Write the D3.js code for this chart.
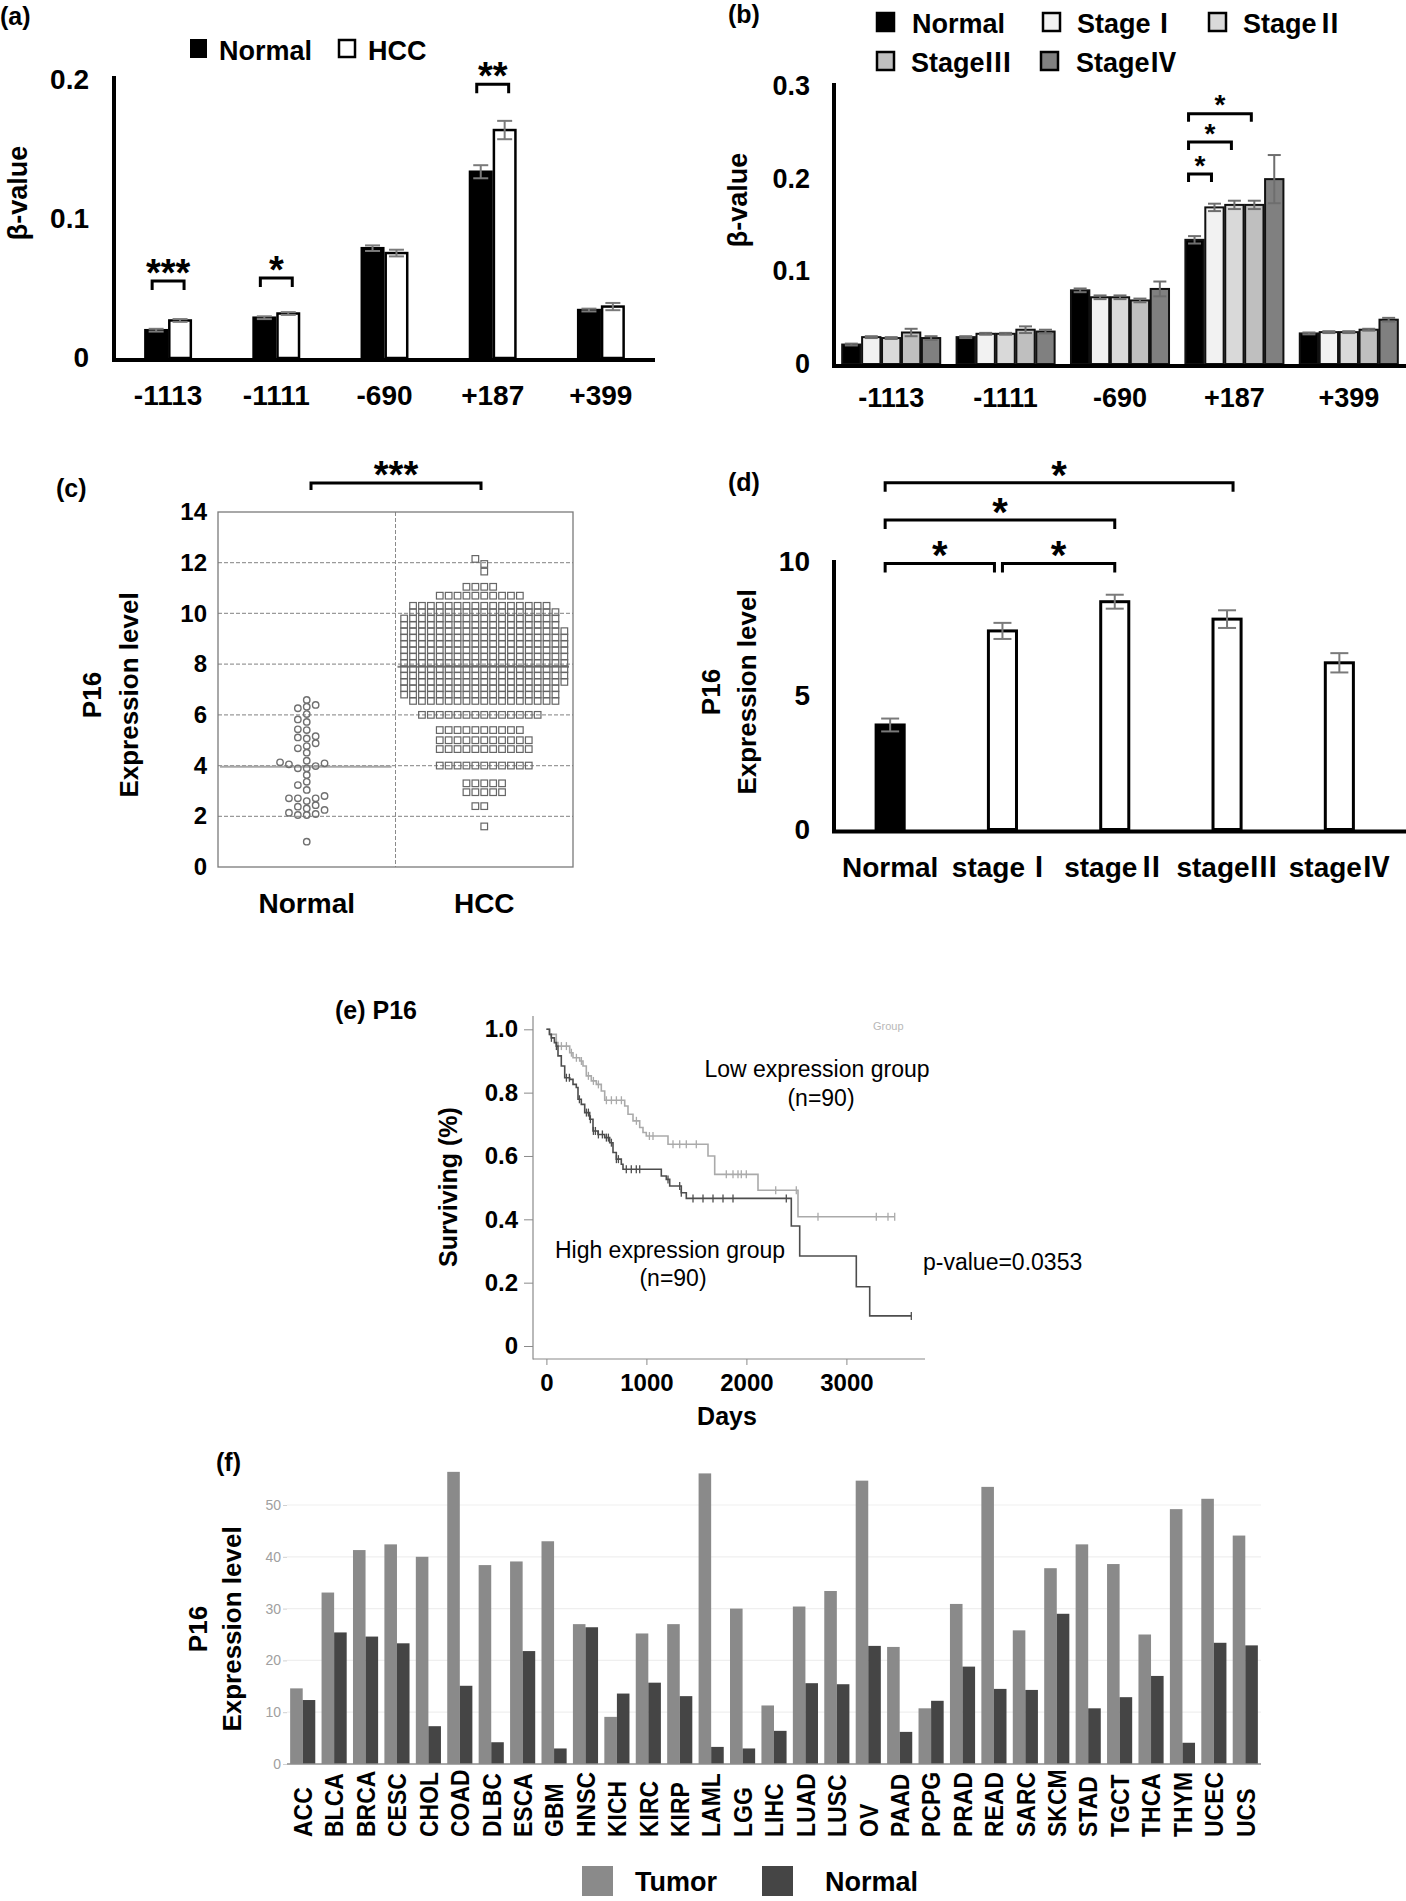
<!DOCTYPE html>
<html><head><meta charset="utf-8">
<script src="https://cdn.jsdelivr.net/npm/d3@7"></script>
<style>
body{margin:0;background:#fff;}
svg{display:block;}
text{font-family:"Liberation Sans",Arial,Helvetica,sans-serif;}
</style></head>
<body><svg id="fig" width="1406" height="1901"></svg>
<script>
// ================= DATA =================
// (a) methylation beta values by CpG site
const sitesA = ["-1113","-1111","-690","+187","+399"];
const groupsA = ["Normal","HCC"];
const normalA = [0.020,0.029,0.079,0.134,0.0345];
const hccA = [0.027,0.032,0.0755,0.164,0.037];
const normalErrA = [0.001,0.001,0.002,0.0047,0.001];
const hccErrA = [0.001,0.001,0.0024,0.0066,0.0026];
const yTicksA = [0,0.1,0.2];
const sigSitesA = ["-1113","-1111","+187"];
const sigLabelsA = ["***","*","**"];
const sigLevelsA = [0.0554,0.0576,0.197];

// (b) beta values by stage
const sitesB = ["-1113","-1111","-690","+187","+399"];
const stagesB = ["Normal","StageⅠ","StageⅡ","StageⅢ","StageⅣ"];
const normalB = [0.021,0.029,0.0795,0.134,0.033];
const stage1B = [0.029,0.0326,0.072,0.169,0.0344];
const stage2B = [0.028,0.0326,0.072,0.1717,0.0344];
const stage3B = [0.034,0.037,0.0686,0.1717,0.037];
const stage4B = [0.028,0.035,0.081,0.1995,0.0478];
const normalErrB = [0.001,0.001,0.002,0.004,0.001];
const stage1ErrB = [0.001,0.001,0.002,0.004,0.001];
const stage2ErrB = [0.001,0.001,0.002,0.0045,0.001];
const stage3ErrB = [0.004,0.0036,0.002,0.0045,0.001];
const stage4ErrB = [0.002,0.002,0.008,0.026,0.002];
const yTicksB = [0,0.1,0.2,0.3];
const sigSiteB = "+187";
const sigTargetsB = ["StageⅠ","StageⅡ","StageⅢ"];
const sigLevelsB = [0.205,0.2395,0.27];

// (c) P16 expression, individual samples
const groupsC = ["Normal","HCC"];
const normalC = [6.59,6.32,6.26,6.39,6.03,5.82,5.72,5.43,5.40,5.07,5.11,5.16,4.88,4.77,4.68,4.51,
  4.05,4.19,4.13,3.89,3.89,3.98,4.09,3.63,3.36,3.23,3.04,2.80,2.71,2.60,2.71,2.71,
  2.44,2.31,2.14,2.05,2.05,2.09,2.25,2.38,1.0];
// HCC samples read as rows: [value, number of samples]
const hccRowsC = [[1.6,1],[2.4,2],[2.95,5],[3.3,5],[4.0,11],[4.65,11],[5.0,11],[5.4,10],[6.0,14],
  [6.55,17],[6.8,18],[7.05,18],[7.3,19],[7.55,19],[7.8,19],[8.05,19],[8.3,19],[8.55,19],[8.8,19],
  [9.05,19],[9.3,19],[9.55,18],[9.8,18],[10.05,17],[10.3,16],[10.7,10],[11.05,4],[11.65,1],[11.95,1],[12.15,1]];
const meansC = [3.95,7.9];
const yTicksC = [0,2,4,6,8,10,12,14];
const gridC = [2,4,6,8,10,12];

// (d) P16 expression by stage
const groupsD = ["Normal","stageⅠ","stageⅡ","stageⅢ","stageⅣ"];
const valuesD = [3.9,7.41,8.5,7.85,6.22];
const errD = [0.24,0.3,0.26,0.33,0.36];
const yTicksD = [0,5,10];
const sigFromD = ["Normal","stageⅠ","Normal","Normal"];
const sigToD = ["stageⅠ","stageⅡ","stageⅡ","stageⅢ"];
const sigLevelsD = [9.93,9.93,11.55,12.94];

// (e) Kaplan-Meier: [day, survival from that day]
const lowKM = [[0,1.0],[33,0.984],[99,0.958],[116,0.947],[233,0.926],[266,0.910],[333,0.900],[366,0.884],
  [399,0.853],[449,0.837],[499,0.826],[549,0.805],[583,0.776],[783,0.758],[816,0.732],[866,0.711],
  [933,0.690],[966,0.674],[999,0.663],[1216,0.637],[1616,0.600],[1683,0.542],[2116,0.492],[2516,0.408],[3483,0.408]];
const highKM = [[0,1.0],[30,0.984],[49,0.973],[80,0.958],[99,0.947],[116,0.916],[149,0.884],[183,0.847],
  [233,0.842],[266,0.826],[299,0.816],[316,0.779],[349,0.763],[383,0.737],[433,0.716],[466,0.679],
  [516,0.668],[583,0.658],[633,0.642],[666,0.611],[699,0.590],[749,0.574],[766,0.558],[1149,0.537],
  [1199,0.526],[1233,0.505],[1349,0.484],[1399,0.466],[2449,0.379],[2533,0.284],[3099,0.187],[3233,0.095],[3649,0.095]];
const lowCensor = [100,150,200,250,300,350,420,470,520,600,650,700,750,900,1030,1066,1266,1333,1399,1499,
  1799,1866,1916,1949,1999,2293,2499,2716,3299,3416,3483];
const highCensor = [50,100,200,230,330,400,420,440,470,490,520,560,600,620,650,700,720,799,849,899,933,
  1216,1333,1349,1466,1566,1666,1766,1866,2399,3649];
const xTicksE = [0,1000,2000,3000];
const yTicksE = [0,0.2,0.4,0.6,0.8,1.0];
const yTickLabelsE = ["0","0.2","0.4","0.6","0.8","1.0"];

// (f) pan-cancer expression
const cancersF = ["ACC","BLCA","BRCA","CESC","CHOL","COAD","DLBC","ESCA","GBM","HNSC","KICH","KIRC","KIRP",
  "LAML","LGG","LIHC","LUAD","LUSC","OV","PAAD","PCPG","PRAD","READ","SARC","SKCM","STAD","TGCT","THCA","THYM","UCEC","UCS"];
const tumorF = [14.6,33.1,41.3,42.4,40.0,56.4,38.4,39.1,43.0,27.0,9.1,25.2,27.0,56.1,30.0,11.3,30.4,
  33.4,54.7,22.6,10.75,30.9,53.5,25.8,37.8,42.4,38.6,25.0,49.2,51.2,44.1];
const normalF = [12.35,25.4,24.6,23.3,7.3,15.1,4.2,21.8,3.0,26.4,13.6,15.7,13.1,3.3,3.0,6.4,15.6,
  15.4,22.8,6.2,12.2,18.8,14.5,14.3,29.0,10.75,12.9,17.0,4.1,23.4,22.9];
const yTicksF = [0,10,20,30,40,50];
const seriesF = ["Tumor","Normal"];

// ================= DRAWING =================
const svg = d3.select("#fig");
svg.append("rect").attr("width",1406).attr("height",1901).attr("fill","#fff");
const CJK = '"Noto Sans CJK JP","Noto Sans CJK SC","DejaVu Sans",sans-serif';

// write a string, putting Roman-numeral characters in a CJK font
function rich(sel, s) {
  sel.text(null);
  (s.match(/[\u2160-\u217F]+|[^\u2160-\u217F]+/g) || []).forEach(p=>{
    const t = sel.append("tspan").text(p);
    if (/[\u2160-\u217F]/.test(p)) t.attr("font-family",CJK);
  });
  return sel;
}
function label(g, x, y, s, size, o={}) {
  const t = g.append("text").attr("x",x).attr("y",y).attr("dy","0.35em")
    .attr("font-size",size).attr("font-weight",o.weight||"bold")
    .attr("text-anchor",o.anchor||"start").attr("fill",o.fill||"#000");
  return rich(t, s);
}
function vlabel(g, x, y, s, size) {
  return g.append("text").attr("transform",`translate(${x},${y}) rotate(-90)`)
    .attr("text-anchor","middle").attr("dy","0.35em").attr("font-size",size).attr("font-weight","bold").text(s);
}
function bracket(g, x1, x2, y, leg, txt, fs) {
  g.append("path").attr("d",`M${x1},${y+leg}V${y}H${x2}V${y+leg}`)
    .attr("fill","none").attr("stroke","#000").attr("stroke-width",3);
  g.append("text").attr("x",(x1+x2)/2).attr("y",y-12+0.45*fs).attr("text-anchor","middle")
    .attr("font-size",fs).attr("font-weight","bold").text(txt);
}
function styleAxis(ax, size, o={}) {
  ax.attr("font-family",null).attr("font-size",size).attr("font-weight",o.weight||"bold");
  ax.selectAll("text").attr("fill",o.fill||"#000");
  if (o.noDomain) ax.select(".domain").remove();
}
function errBar(g, cx, y0, y1, cap, color) {
  g.append("line").attr("x1",cx).attr("x2",cx).attr("y1",y0).attr("y2",y1).attr("stroke",color).attr("stroke-width",2);
  [y0,y1].forEach(yy=>g.append("line").attr("x1",cx-cap/2).attr("x2",cx+cap/2).attr("y1",yy).attr("y2",yy)
    .attr("stroke",color).attr("stroke-width",2));
}

// ---------- (a) ----------
{
  const g = svg.append("g");
  const y = d3.scaleLinear().domain([0,0.2]).range([358,80]);
  const x = d3.scaleBand().domain(sitesA).range([114,655]).paddingInner(0.58).paddingOuter(0.29);
  const xi = d3.scaleBand().domain(groupsA).range([0,x.bandwidth()]).paddingInner(0.1);
  const series = [
    {key:"Normal", vals:normalA, err:normalErrA, fill:"#000"},
    {key:"HCC", vals:hccA, err:hccErrA, fill:"#fff"}];
  series.forEach(s=>{
    g.selectAll(null).data(sitesA).join("rect")
      .attr("x",d=>x(d)+xi(s.key)).attr("width",xi.bandwidth())
      .attr("y",(d,i)=>y(s.vals[i])).attr("height",(d,i)=>y(0)-y(s.vals[i]))
      .attr("fill",s.fill).attr("stroke","#000").attr("stroke-width",2.5);
  });
  series.forEach(s=>sitesA.forEach((d,i)=>{
    errBar(g, x(d)+xi(s.key)+xi.bandwidth()/2, y(s.vals[i]+s.err[i]), y(s.vals[i]-s.err[i]), 15, "#7a7a7a");
  }));
  g.append("line").attr("x1",114).attr("x2",114).attr("y1",76).attr("y2",361).attr("stroke","#000").attr("stroke-width",4);
  g.append("line").attr("x1",112).attr("x2",655).attr("y1",360).attr("y2",360).attr("stroke","#000").attr("stroke-width",4);
  const ay = g.append("g").attr("transform","translate(114,0)")
    .call(d3.axisLeft(y).tickValues(yTicksA).tickFormat(d=>d===0?"0":d3.format(".1f")(d)).tickSize(0).tickPadding(25));
  styleAxis(ay, 28, {noDomain:true});
  const ax = g.append("g").attr("transform","translate(0,358)")
    .call(d3.axisBottom(x).tickSize(0).tickPadding(27));
  styleAxis(ax, 28, {noDomain:true});
  vlabel(g, 18, 193, "β-value", 27);
  label(g, 0, 16, "(a)", 25);
  g.append("rect").attr("x",191).attr("y",40).attr("width",15).attr("height",17).attr("fill","#000").attr("stroke","#000").attr("stroke-width",2);
  label(g, 219, 51, groupsA[0], 27);
  g.append("rect").attr("x",339).attr("y",40).attr("width",16).attr("height",17).attr("fill","#fff").attr("stroke","#000").attr("stroke-width",2.5);
  label(g, 368, 51, groupsA[1], 27);
  sigSitesA.forEach((s,i)=>{
    const c0 = x(s)+xi("Normal")+xi.bandwidth()/2, c1 = x(s)+xi("HCC")+xi.bandwidth()/2;
    bracket(g, c0-4, c1+4, y(sigLevelsA[i]), 9, sigLabelsA[i], 38);
  });
}

// ---------- (b) ----------
{
  const g = svg.append("g");
  const y = d3.scaleLinear().domain([0,0.3]).range([364,86]);
  const x = d3.scaleBand().domain(sitesB).range([834,1406]).paddingInner(0.143).paddingOuter(0.0715);
  const xi = d3.scaleBand().domain(stagesB).range([0,x.bandwidth()]).paddingInner(0.08);
  const vals = [normalB,stage1B,stage2B,stage3B,stage4B];
  const errs = [normalErrB,stage1ErrB,stage2ErrB,stage3ErrB,stage4ErrB];
  const fills = ["#000","#f2f2f2","#d9d9d9","#bfbfbf","#808080"];
  stagesB.forEach((st,k)=>{
    g.selectAll(null).data(sitesB).join("rect")
      .attr("x",d=>x(d)+xi(st)).attr("width",xi.bandwidth())
      .attr("y",(d,i)=>y(vals[k][i])).attr("height",(d,i)=>y(0)-y(vals[k][i]))
      .attr("fill",fills[k]).attr("stroke","#111").attr("stroke-width",2);
  });
  stagesB.forEach((st,k)=>sitesB.forEach((d,i)=>{
    errBar(g, x(d)+xi(st)+xi.bandwidth()/2, y(vals[k][i]+errs[k][i]), y(vals[k][i]-errs[k][i]), 13, "#6e6e6e");
  }));
  g.append("line").attr("x1",834).attr("x2",834).attr("y1",83).attr("y2",367).attr("stroke","#000").attr("stroke-width",4);
  g.append("line").attr("x1",832).attr("x2",1406).attr("y1",366).attr("y2",366).attr("stroke","#000").attr("stroke-width",4);
  const ay = g.append("g").attr("transform","translate(834,0)")
    .call(d3.axisLeft(y).tickValues(yTicksB).tickFormat(d=>d===0?"0":d3.format(".1f")(d)).tickSize(0).tickPadding(24));
  styleAxis(ay, 27, {noDomain:true});
  const ax = g.append("g").attr("transform","translate(0,364)")
    .call(d3.axisBottom(x).tickSize(0).tickPadding(24));
  styleAxis(ax, 27, {noDomain:true});
  vlabel(g, 738, 200, "β-value", 27);
  label(g, 728, 14, "(b)", 25);
  const legPos = [[877,13,912],[1043,13,1077],[1209,13,1243],[877,52,911],[1041,52,1076]];
  stagesB.forEach((st,k)=>{
    const p = legPos[k];
    g.append("rect").attr("x",p[0]).attr("y",p[1]).attr("width",17).attr("height",18)
      .attr("fill",fills[k]).attr("stroke","#000").attr("stroke-width",2.5);
    label(g, p[2], p[1]+11, st, 27);
  });
  const cN = x(sigSiteB)+xi("Normal")+xi.bandwidth()/2;
  sigTargetsB.forEach((t,i)=>{
    const cT = x(sigSiteB)+xi(t)+xi.bandwidth()/2;
    bracket(g, cN-6, cT-3, y(sigLevelsB[i]), 8, "*", 28);
  });
}

// ---------- (c) ----------
{
  const g = svg.append("g");
  const y = d3.scaleLinear().domain([0,14]).range([867,512]);
  const x = d3.scaleBand().domain(groupsC).range([218,573]);
  g.selectAll(null).data(gridC).join("line")
    .attr("x1",218).attr("x2",573).attr("y1",d=>y(d)).attr("y2",d=>y(d))
    .attr("stroke","#9a9a9a").attr("stroke-width",1.2).attr("stroke-dasharray","4,2");
  g.append("line").attr("x1",x("HCC")).attr("x2",x("HCC")).attr("y1",512).attr("y2",867)
    .attr("stroke","#8a8a8a").attr("stroke-width",1).attr("stroke-dasharray","4,2");
  g.append("rect").attr("x",218).attr("y",512).attr("width",355).attr("height",355)
    .attr("fill","none").attr("stroke","#7a7a7a").attr("stroke-width",1.3);
  groupsC.forEach((gr,i)=>{
    g.append("line").attr("x1",x(gr)+2).attr("x2",x(gr)+x.bandwidth()-4)
      .attr("y1",y(meansC[i])).attr("y2",y(meansC[i])).attr("stroke",i===0?"#a8a8a8":"#808080").attr("stroke-width",2);
  });
  function swarm(values, cx, colW, minDy) {
    const sorted = values.slice().sort((a,b)=>a-b);
    const cols = new Map(); const out = [];
    for (const v of sorted) {
      const yy = y(v);
      for (let k=0;k<80;k++) {
        const c = k===0?0:(k%2===1?-(k+1)/2:k/2);
        const arr = cols.get(c)||[];
        if (arr.every(q=>Math.abs(q-yy)>=minDy)) { arr.push(yy); cols.set(c,arr); out.push({x:cx+c*colW,y:yy}); break; }
      }
    }
    return out;
  }
  const cxN = x("Normal")+x.bandwidth()/2, cxH = x("HCC")+x.bandwidth()/2;
  const ptsN = swarm(normalC, cxN, 8.9, 6.5);
  g.selectAll(null).data(ptsN).join("circle").attr("cx",d=>d.x).attr("cy",d=>d.y).attr("r",3.2)
    .attr("fill","none").attr("stroke","#707070").attr("stroke-width",1.4);
  const hccVals = hccRowsC.flatMap(([v,n])=>d3.range(n).map(()=>v));
  const ptsH = swarm(hccVals, cxH, 8.9, 6);
  g.selectAll(null).data(ptsH).join("rect").attr("x",d=>d.x-3.3).attr("y",d=>d.y-3.3).attr("width",6.6).attr("height",6.6)
    .attr("fill","none").attr("stroke","#666").attr("stroke-width",1.2);
  const ay = g.append("g").attr("transform","translate(218,0)")
    .call(d3.axisLeft(y).tickValues(yTicksC).tickSize(0).tickPadding(11));
  styleAxis(ay, 24, {noDomain:true});
  const ax = g.append("g").attr("transform","translate(0,867)")
    .call(d3.axisBottom(x).tickSize(0).tickPadding(26));
  styleAxis(ax, 28, {noDomain:true});
  vlabel(g, 92, 695, "P16", 26);
  vlabel(g, 129, 695, "Expression level", 26);
  label(g, 56, 488, "(c)", 25);
  bracket(g, 311, 481, 483, 7, "***", 38);
}

// ---------- (d) ----------
{
  const g = svg.append("g");
  const y = d3.scaleLinear().domain([0,10]).range([829.5,561.5]);
  const x = d3.scaleBand().domain(groupsD).range([834,1395.5]).paddingInner(0.75).paddingOuter(0.375);
  g.selectAll(null).data(groupsD).join("rect")
    .attr("x",d=>x(d)).attr("width",x.bandwidth())
    .attr("y",(d,i)=>y(valuesD[i])).attr("height",(d,i)=>y(0)-y(valuesD[i]))
    .attr("fill",(d,i)=>i===0?"#000":"#fff").attr("stroke","#000").attr("stroke-width",3);
  groupsD.forEach((d,i)=>errBar(g, x(d)+x.bandwidth()/2, y(valuesD[i]+errD[i]), y(valuesD[i]-errD[i]), 18, "#7a7a7a"));
  g.append("line").attr("x1",834).attr("x2",834).attr("y1",560).attr("y2",833).attr("stroke","#000").attr("stroke-width",4);
  g.append("line").attr("x1",832).attr("x2",1406).attr("y1",831.5).attr("y2",831.5).attr("stroke","#000").attr("stroke-width",4);
  const ay = g.append("g").attr("transform","translate(834,0)")
    .call(d3.axisLeft(y).tickValues(yTicksD).tickSize(0).tickPadding(24));
  styleAxis(ay, 28, {noDomain:true});
  const ax = g.append("g").attr("transform","translate(0,829.5)")
    .call(d3.axisBottom(x).tickSize(0).tickPadding(28));
  styleAxis(ax, 28, {noDomain:true});
  ax.selectAll("text").each(function(d){ rich(d3.select(this), d); });
  vlabel(g, 711, 692, "P16", 26);
  vlabel(g, 747, 692, "Expression level", 26);
  label(g, 728, 482, "(d)", 25);
  const cx = d=>x(d)+x.bandwidth()/2;
  sigFromD.forEach((f,i)=>{
    const t = sigToD[i];
    let x1 = cx(f)-5, x2 = cx(t)+(t==="stageⅢ"?6:0);
    if (sigFromD.some((ff,j)=>j!==i && ff===t && sigLevelsD[j]===sigLevelsD[i])) x2 = cx(t)-8;
    if (sigToD.some((tt,j)=>j!==i && tt===f && sigLevelsD[j]===sigLevelsD[i])) x1 = cx(f);
    bracket(g, x1, x2, y(sigLevelsD[i]), 9, "*", 40);
  });
}

// ---------- (e) ----------
{
  const g = svg.append("g");
  const x = d3.scaleLinear().domain([0,3000]).range([546.4,846.4]);
  const y = d3.scaleLinear().domain([0,1]).range([1346,1029.3]);
  g.append("line").attr("x1",533).attr("x2",533).attr("y1",1016).attr("y2",1359.5).attr("stroke","#8a8a8a").attr("stroke-width",1.2);
  g.append("line").attr("x1",533).attr("x2",925).attr("y1",1359).attr("y2",1359).attr("stroke","#8a8a8a").attr("stroke-width",1.2);
  const ay = g.append("g").attr("transform","translate(533,0)")
    .call(d3.axisLeft(y).tickValues(yTicksE).tickFormat((d,i)=>yTickLabelsE[i]).tickSize(9).tickPadding(6));
  styleAxis(ay, 24, {noDomain:true});
  ay.selectAll("line").attr("stroke","#8a8a8a");
  const ax = g.append("g").attr("transform","translate(0,1359)")
    .call(d3.axisBottom(x).tickValues(xTicksE).tickFormat(d3.format("d")).tickSize(6).tickPadding(9));
  styleAxis(ax, 24, {noDomain:true});
  ax.selectAll("line").attr("stroke","#8a8a8a");
  const line = d3.line().x(d=>x(d[0])).y(d=>y(d[1])).curve(d3.curveStepAfter);
  const survAt = (km,t)=>{ let s=1; for (const [tt,ss] of km) if (tt<=t) s=ss; return s; };
  const groups = [{km:lowKM, cens:lowCensor, color:"#aaaaaa"},{km:highKM, cens:highCensor, color:"#4d4d4d"}];
  groups.forEach(G=>{
    g.append("path").attr("d",line(G.km)).attr("fill","none").attr("stroke",G.color).attr("stroke-width",1.6);
    g.selectAll(null).data(G.cens).join("line")
      .attr("x1",d=>x(d)).attr("x2",d=>x(d)).attr("y1",d=>y(survAt(G.km,d))-4).attr("y2",d=>y(survAt(G.km,d))+4)
      .attr("stroke",G.color).attr("stroke-width",1.3);
  });
  label(g, 335, 1010, "(e) P16", 25);
  vlabel(g, 448, 1187, "Surviving (%)", 25);
  label(g, 727, 1416, "Days", 25, {anchor:"middle"});
  label(g, 817, 1069, "Low expression group", 23, {weight:"normal", anchor:"middle"});
  label(g, 821, 1098, "(n=90)", 23, {weight:"normal", anchor:"middle"});
  label(g, 670, 1250, "High expression group", 23, {weight:"normal", anchor:"middle"});
  label(g, 673, 1278, "(n=90)", 23, {weight:"normal", anchor:"middle"});
  label(g, 923, 1262, "p-value=0.0353", 23, {weight:"normal"});
  g.append("text").attr("x",873).attr("y",1030).attr("font-size",11).attr("fill","#b8b8b8").text("Group");
}

// ---------- (f) ----------
{
  const g = svg.append("g");
  const y = d3.scaleLinear().domain([0,50]).range([1764,1505]);
  const x = d3.scaleBand().domain(cancersF).range([287,1261]).paddingInner(0.2).paddingOuter(0.1);
  const xi = d3.scaleBand().domain(seriesF).range([0,x.bandwidth()]);
  g.selectAll(null).data(yTicksF.slice(1)).join("line")
    .attr("x1",287).attr("x2",1261).attr("y1",d=>y(d)).attr("y2",d=>y(d)).attr("stroke","#efefef").attr("stroke-width",1.2);
  const vals = [tumorF, normalF], fills = ["#8a8a8a","#454545"];
  seriesF.forEach((s,k)=>{
    g.selectAll(null).data(cancersF).join("rect")
      .attr("x",d=>x(d)+xi(s)).attr("width",xi.bandwidth())
      .attr("y",(d,i)=>y(vals[k][i])).attr("height",(d,i)=>y(0)-y(vals[k][i]))
      .attr("fill",fills[k]);
  });
  g.append("line").attr("x1",287).attr("x2",1261).attr("y1",1764).attr("y2",1764).attr("stroke","#8c8c8c").attr("stroke-width",1.6);
  const ay = g.append("g").attr("transform","translate(287,0)")
    .call(d3.axisLeft(y).tickValues(yTicksF).tickSize(4).tickPadding(2));
  styleAxis(ay, 14, {noDomain:true, weight:"normal", fill:"#a0a0a0"});
  ay.selectAll("line").attr("stroke","#d0d0d0");
  g.selectAll(null).data(cancersF).join("text")
    .attr("transform",d=>`translate(${x(d)+x.bandwidth()/2},1837) rotate(-90) scale(1,1.12)`)
    .attr("dy","0.36em").attr("font-size",23).attr("font-weight","bold").text(d=>d);
  vlabel(g, 198, 1629, "P16", 26);
  vlabel(g, 232, 1629, "Expression level", 26);
  label(g, 216, 1462, "(f)", 25);
  const legX = [[582,635],[762,825]];
  seriesF.forEach((s,k)=>{
    g.append("rect").attr("x",legX[k][0]).attr("y",1866).attr("width",31).attr("height",30).attr("fill",fills[k]);
    label(g, legX[k][1], 1882, s, 27);
  });
}
</script>
</body></html>
